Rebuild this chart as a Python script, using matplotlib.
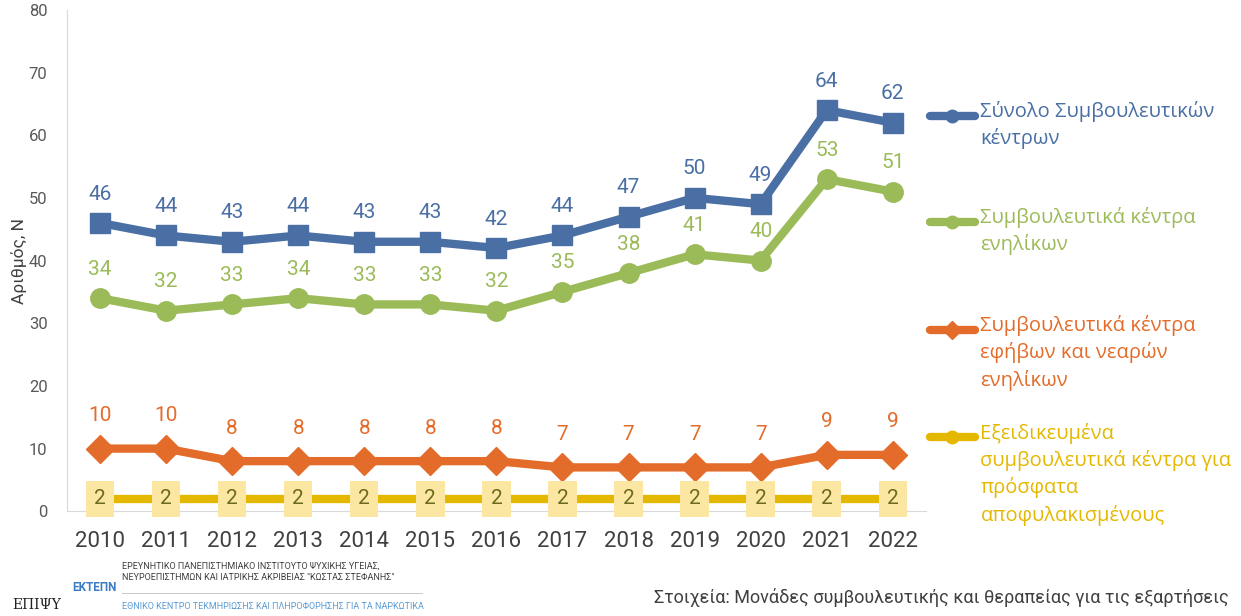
import matplotlib.pyplot as plt
from matplotlib.lines import Line2D

plt.rcParams['font.family'] = ['Roboto', 'DejaVu Sans']

years = list(range(2010, 2023))
total = [46, 44, 43, 44, 43, 43, 42, 44, 47, 50, 49, 64, 62]
adults = [34, 32, 33, 34, 33, 33, 32, 35, 38, 41, 40, 53, 51]
youth = [10, 10, 8, 8, 8, 8, 8, 7, 7, 7, 7, 9, 9]
released = [2, 2, 2, 2, 2, 2, 2, 2, 2, 2, 2, 2, 2]

names = ["Σύνολο Συμβουλευτικών\nκέντρων",
         "Συμβουλευτικά κέντρα\nενηλίκων",
         "Συμβουλευτικά κέντρα\nεφήβων και νεαρών\nενηλίκων",
         "Εξειδικευμένα\nσυμβουλευτικά κέντρα για\nπρόσφατα\nαποφυλακισμένους"]
colors = ["#4a6fa5", "#9bbb59", "#e46c2a", "#e5b800"]
markers = ["s", "o", "D", "s"]

fig = plt.figure(figsize=(12.41, 6.16), dpi=100)
ax = fig.add_axes([0.054, 0.170, 0.692, 0.814])

series = [total, adults, youth, released]
for vals, c, m in zip(series, colors, markers):
    ax.plot(years, vals, color=c, lw=6, marker=m, ms=14, solid_capstyle='round')

for x, v in zip(years, total):
    ax.annotate(str(v), (x, v), xytext=(0, 14), textcoords='offset points',
                ha='center', va='bottom', fontsize=15, color=colors[0])
for x, v in zip(years, adults):
    ax.annotate(str(v), (x, v), xytext=(0, 14), textcoords='offset points',
                ha='center', va='bottom', fontsize=15, color=colors[1])
for x, v in zip(years, youth):
    ax.annotate(str(v), (x, v), xytext=(0, 17), textcoords='offset points',
                ha='center', va='bottom', fontsize=15, color=colors[2])
for x, v in zip(years, released):
    ax.annotate(str(v), (x, v), ha='center', va='center', fontsize=15, color="#6b6b1a",
                bbox=dict(boxstyle='square,pad=0.4', fc='#fbe7a1', ec='none'))

ax.set_xlim(2009.5, 2022.5)
ax.set_ylim(0, 80)
ax.set_yticks(range(0, 81, 10))
ax.set_xticks(years)
ax.tick_params(axis='y', labelsize=12, labelcolor='#595959', length=0, pad=14)
ax.tick_params(axis='x', labelsize=16, labelcolor='#404040', length=0, pad=14)
ax.set_ylabel("Αριθμός, N", fontsize=12.5, color='#404040', labelpad=1)
for s in ['top', 'right']:
    ax.spines[s].set_visible(False)
ax.spines['left'].set_color('#d9d9d9')
ax.spines['bottom'].set_color('#d9d9d9')

# legend on the right
leg_y = [0.812, 0.640, 0.465, 0.290]
for name, c, m, y in zip(names, colors, markers, leg_y):
    fig.add_artist(Line2D([0.749, 0.786], [y, y], color=c, lw=6,
                          solid_capstyle='round', transform=fig.transFigure))
    fig.add_artist(Line2D([0.7675], [y], color=c, marker='D' if m == 'D' else 'o', ms=9,
                          transform=fig.transFigure))
    fig.text(0.790, y + 0.024, name, color=c, fontsize=14.5, va='top', ha='left',
             family=['Open Sans', 'DejaVu Sans'], linespacing=1.4)

# footer
fig.text(0.990, 0.030, "Στοιχεία: Μονάδες συμβουλευτικής και θεραπείας για τις εξαρτήσεις",
         ha='right', va='center', fontsize=13, color='#404040')
fig.text(0.010, 0.012, "ΕΠΙΨΥ", fontsize=10, family=['DejaVu Serif'], color='#222222')
fig.text(0.058, 0.040, "ΕΚΤΕΠΝ", fontsize=8.5, color='#3b7dc4', weight='bold')
fig.text(0.098, 0.072, "ΕΡΕΥΝΗΤΙΚΟ ΠΑΝΕΠΙΣΤΗΜΙΑΚΟ ΙΝΣΤΙΤΟΥΤΟ ΨΥΧΙΚΗΣ ΥΓΕΙΑΣ,\n"
         "ΝΕΥΡΟΕΠΙΣΤΗΜΩΝ ΚΑΙ ΙΑΤΡΙΚΗΣ ΑΚΡΙΒΕΙΑΣ \"ΚΩΣΤΑΣ ΣΤΕΦΑΝΗΣ\"",
         fontsize=6.5, color='#404040', va='center', linespacing=1.3)
fig.add_artist(Line2D([0.098, 0.340], [0.037, 0.037], color='#bfbfbf', lw=0.6,
                      transform=fig.transFigure))
fig.text(0.098, 0.015, "ΕΘΝΙΚΟ ΚΕΝΤΡΟ ΤΕΚΜΗΡΙΩΣΗΣ ΚΑΙ ΠΛΗΡΟΦΟΡΗΣΗΣ ΓΙΑ ΤΑ ΝΑΡΚΩΤΙΚΑ",
         fontsize=6.5, color='#5b9bd5', va='center')

fig.savefig("out.png", dpi=100)
